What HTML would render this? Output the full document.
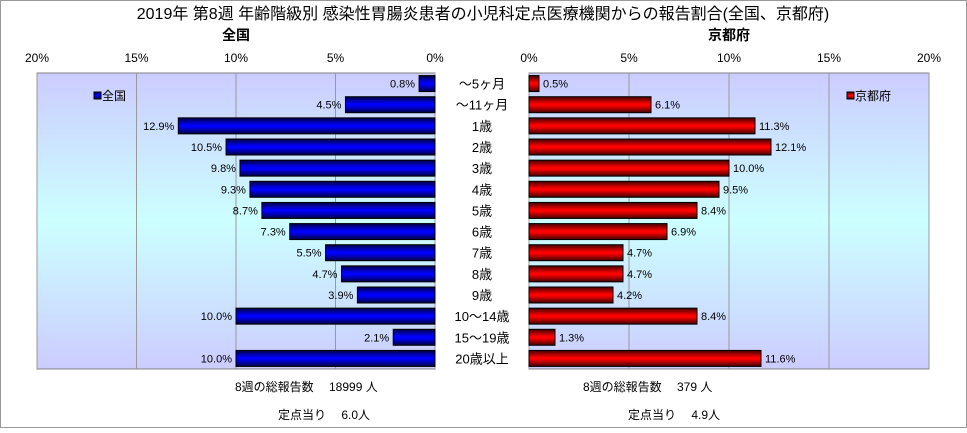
<!DOCTYPE html>
<html><head><meta charset="utf-8"><style>
body{margin:0;background:#fff}
svg text{font-family:"Liberation Sans","Noto Sans CJK JP",sans-serif}
</style></head><body>
<svg id="c" width="967" height="428" viewBox="0 0 967 428" xmlns="http://www.w3.org/2000/svg">
<defs>
<linearGradient id="bg" x1="0" y1="0" x2="0" y2="1"><stop offset="0" stop-color="#ccccff"/><stop offset="0.5" stop-color="#ccffff"/><stop offset="1" stop-color="#ccccff"/></linearGradient>
<linearGradient id="gb" x1="0" y1="0" x2="0" y2="1"><stop offset="0" stop-color="#000040"/><stop offset="0.45" stop-color="#0000ff"/><stop offset="0.55" stop-color="#0000ff"/><stop offset="1" stop-color="#000040"/></linearGradient>
<linearGradient id="gr" x1="0" y1="0" x2="0" y2="1"><stop offset="0" stop-color="#400000"/><stop offset="0.45" stop-color="#ff0000"/><stop offset="0.55" stop-color="#ff0000"/><stop offset="1" stop-color="#400000"/></linearGradient>
</defs>
<rect x="0.5" y="0.5" width="966" height="427" fill="#fff" stroke="#999"/>
<text x="483" y="19" font-size="16" text-anchor="middle">2019年 第8週 年齢階級別 感染性胃腸炎患者の小児科定点医療機関からの報告割合(全国、京都府)</text>
<text x="236" y="40" font-size="14" font-weight="bold" text-anchor="middle">全国</text>
<text x="729" y="40" font-size="14" font-weight="bold" text-anchor="middle">京都府</text>
<g id="g"></g>
<text x="235" y="391" font-size="12">8週の総報告数　  18999 人</text>
<text x="278" y="419" font-size="12">定点当り　 6.0人</text>
<text x="583" y="391" font-size="12">8週の総報告数　  379 人</text>
<text x="628" y="419" font-size="12">定点当り　 4.9人</text>
</svg>
<script>
const categories=["～5ヶ月","～11ヶ月","1歳","2歳","3歳","4歳","5歳","6歳","7歳","8歳","9歳","10～14歳","15～19歳","20歳以上"];
const nationalValues=[0.8,4.5,12.9,10.5,9.8,9.3,8.7,7.3,5.5,4.7,3.9,10.0,2.1,10.0];
const kyotoValues=[0.5,6.1,11.3,12.1,10.0,9.5,8.4,6.9,4.7,4.7,4.2,8.4,1.3,11.6];
const tickValues=[0,5,10,15,20];
const NS="http://www.w3.org/2000/svg";
const g=document.getElementById('g');
const plotTop=73,plotBot=369,pitch=(plotBot-plotTop)/categories.length,bh=16;
const L0=435,Lw=398,R0=529,Rw=400;
const xl=v=>L0-v/20*Lw, xr=v=>R0+v/20*Rw;
function mk(t,a){const e=document.createElementNS(NS,t);for(const k in a)e.setAttribute(k,a[k]);g.appendChild(e);return e;}
function panel(x0,x1,sc,vals,fill,name,leg,legx){
 const p=mk('rect',{x:Math.min(x0,x1),y:plotTop,width:Math.abs(x1-x0),height:plotBot-plotTop,fill:'url(#bg)',stroke:'#808080'});
 
 
 tickValues.forEach(t=>{const X=sc(t);
  const l=mk('line',{x1:X,x2:X,y1:plotTop,y2:plotBot,stroke:'#999'});
  
  
  const tx=mk('text',{x:X,y:62,'font-size':12,'text-anchor':'middle'});tx.textContent=t+'%';
  
  
 });
 vals.forEach((v,i)=>{const cy=plotTop+pitch*(i+0.5);const a=sc(0),b=sc(v);
  const r=mk('rect',{x:Math.min(a,b),y:cy-bh/2,width:Math.abs(b-a),height:bh,fill:fill,stroke:'#000','stroke-width':1});
  
  
  const left=name==='national';
  const tx=mk('text',{x:left?b-4:b+4,y:cy+4,'font-size':11,'text-anchor':left?'end':'start'});tx.textContent=v.toFixed(1)+'%';
  
  
 });
 const lr=mk('rect',{x:legx,y:92,width:7,height:7,fill:fill,stroke:'#000'});
 
 
 const lt=mk('text',{x:legx+8,y:100,'font-size':12});lt.textContent=leg;
 
 
}
panel(L0,L0-Lw,xl,nationalValues,'url(#gb)','national','全国',94);
panel(R0,R0+Rw,xr,kyotoValues,'url(#gr)','kyoto','京都府',847);
categories.forEach((c,i)=>{const t=mk('text',{x:482,y:plotTop+pitch*(i+0.5)+5,'font-size':13,'text-anchor':'middle'});t.textContent=c;
 
 
});
</script>
</body></html>
